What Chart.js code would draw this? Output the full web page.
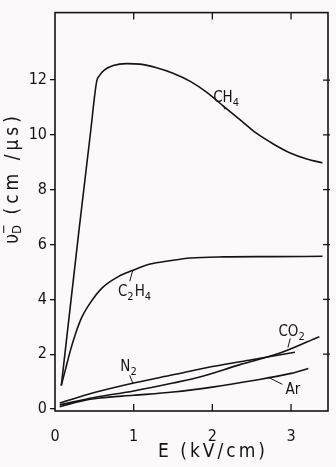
<!DOCTYPE html>
<html>
<head>
<meta charset="utf-8">
<script src="https://cdn.jsdelivr.net/npm/chart.js@4.4.1/dist/chart.umd.min.js"></script>
<style>
  html, body { margin: 0; padding: 0; background: #fcf9fb; }
  canvas { display: block; }
</style>
</head>
<body>
<canvas id="graph" width="336" height="467"></canvas>
<script>
// E (kV/cm) and drift velocity (cm/us)
const eCH4  = [0.08, 0.30, 0.45, 0.53, 0.57, 0.63, 0.74, 0.91, 1.08, 1.29, 1.50, 1.72, 1.93, 2.14, 2.35, 2.56, 2.78, 2.99, 3.20, 3.40];
const vCH4  = [0.85, 6.40, 10.05, 11.95, 12.18, 12.37, 12.53, 12.60, 12.58, 12.45, 12.25, 11.95, 11.55, 11.05, 10.56, 10.06, 9.66, 9.34, 9.12, 8.98];

const eC2H4 = [0.08, 0.13, 0.195, 0.26, 0.34, 0.45, 0.60, 0.81, 0.98, 1.21, 1.46, 1.72, 2.14, 2.77, 3.40];
const vC2H4 = [0.87, 1.41, 2.13, 2.74, 3.34, 3.88, 4.42, 4.84, 5.05, 5.29, 5.41, 5.51, 5.55, 5.56, 5.57];

const eN2   = [0.06, 0.50, 1.00, 1.50, 2.00, 2.50, 3.05];
const vN2   = [0.22, 0.60, 0.95, 1.25, 1.55, 1.80, 2.07];

const eCO2  = [0.06, 0.50, 1.00, 1.50, 1.84, 2.35, 2.86, 3.36];
const vCO2  = [0.15, 0.42, 0.66, 0.95, 1.17, 1.62, 2.04, 2.64];

const eAr   = [0.06, 0.30, 0.57, 1.00, 1.50, 2.00, 2.50, 3.00, 3.22];
const vAr   = [0.08, 0.27, 0.40, 0.50, 0.62, 0.80, 1.03, 1.30, 1.48];

const xTicks = [0, 1, 2, 3];
const yTicks = [0, 2, 4, 6, 8, 10, 12];

const INK  = '#141414';
const FONT = '"Liberation Sans Narrow", "DejaVu Sans Condensed", sans-serif';

const pts = (xs, ys) => xs.map((x, i) => ({ x, y: ys[i] }));
const line = (xs, ys) => ({
  data: pts(xs, ys),
  borderColor: INK,
  borderWidth: 1.6,
  pointRadius: 0,
  fill: false,
  cubicInterpolationMode: 'monotone',
});

// curve labels: text parts ([text, isSub]), text anchor and leader line, in data units
const labels = [
  { parts: [['CH', 0], ['4', 1]],            at: [2.01, 11.2], lead: [[2.14, 11.08], [2.16, 10.93]] },
  { parts: [['C', 0], ['2', 1], ['H', 0], ['4', 1]], at: [0.80, 4.12], lead: [[0.99, 5.08], [0.95, 4.66]] },
  { parts: [['N', 0], ['2', 1]],             at: [0.83, 1.37], lead: [[0.95, 1.23], [0.99, 0.94]] },
  { parts: [['CO', 0], ['2', 1]],            at: [2.84, 2.67], lead: [[2.99, 2.57], [2.96, 2.24]] },
  { parts: [['Ar', 0]],                      at: [2.93, 0.54], lead: [[2.89, 0.90], [2.71, 1.16]] },
];

function drawParts(ctx, parts, x, y, size) {
  ctx.textAlign = 'left';
  ctx.textBaseline = 'alphabetic';
  for (const [t, sub] of parts) {
    ctx.font = (sub ? size - 4 : size) + 'px ' + FONT;
    ctx.fillText(t, x, sub ? y + 4 : y);
    x += ctx.measureText(t).width + (sub ? 1 : 0);
  }
}

const decor = {
  id: 'decor',
  beforeDraw(chart) {
    const ctx = chart.ctx;
    ctx.save();
    ctx.fillStyle = '#fcf9fb';
    ctx.fillRect(0, 0, chart.width, chart.height);
    ctx.restore();
  },
  afterDraw(chart) {
    const { ctx, chartArea: a, scales: { x, y } } = chart;
    ctx.save();
    ctx.strokeStyle = INK;
    ctx.fillStyle = INK;
    ctx.lineWidth = 1.6;
    ctx.strokeRect(a.left, a.top, a.right - a.left, a.bottom - a.top);

    // inward ticks on bottom, top and right
    ctx.lineWidth = 1.3;
    ctx.beginPath();
    for (const v of xTicks.slice(1)) {
      const px = x.getPixelForValue(v);
      ctx.moveTo(px, a.bottom); ctx.lineTo(px, a.bottom - 7);
      ctx.moveTo(px, a.top);    ctx.lineTo(px, a.top + 7);
    }
    for (const v of yTicks.slice(1)) {
      const py = y.getPixelForValue(v);
      ctx.moveTo(a.right - 5, py); ctx.lineTo(a.right + 2, py);
    }
    ctx.stroke();

    // curve labels
    ctx.lineWidth = 1;
    for (const l of labels) {
      drawParts(ctx, l.parts, x.getPixelForValue(l.at[0]), y.getPixelForValue(l.at[1]), 15);
      ctx.beginPath();
      ctx.moveTo(x.getPixelForValue(l.lead[0][0]), y.getPixelForValue(l.lead[0][1]));
      ctx.lineTo(x.getPixelForValue(l.lead[1][0]), y.getPixelForValue(l.lead[1][1]));
      ctx.stroke();
    }

    // x title
    ctx.font = '19px ' + FONT;
    ctx.letterSpacing = '3px';
    ctx.textAlign = 'center';
    ctx.textBaseline = 'middle';
    ctx.fillText('E (kV/cm)', 213, 452);

    // y title, rotated: υ with superscript bar and subscript D, then unit
    ctx.translate(13, 178);
    ctx.rotate(-Math.PI / 2);
    ctx.textAlign = 'left';
    ctx.font = '19px ' + FONT;
    const unit = ' (cm /μs)';
    ctx.letterSpacing = '4px';
    const wUnit = ctx.measureText(unit).width;
    ctx.letterSpacing = '0px';
    const wV = ctx.measureText('υ').width;
    const total = wV + 10 + wUnit;
    let cx = -total / 2;
    ctx.fillText('υ', cx, 0);
    ctx.font = '13px ' + FONT;
    ctx.fillText('D', cx + wV, 5);
    ctx.fillText('−', cx + wV, -8);
    cx += wV + 10;
    ctx.font = '19px ' + FONT;
    ctx.letterSpacing = '4px';
    ctx.fillText(unit, cx, 0);
    ctx.restore();
  },
};

const chart = new Chart(document.getElementById('graph'), {
  type: 'line',
  data: {
    datasets: [
      line(eCH4, vCH4),
      line(eC2H4, vC2H4),
      line(eN2, vN2),
      line(eCO2, vCO2),
      line(eAr, vAr),
    ],
  },
  options: {
    responsive: false,
    animation: false,
    devicePixelRatio: 1,
    layout: { padding: { top: 9, right: 8, left: 0, bottom: 0 } },
    plugins: {
      legend: { display: false },
      tooltip: { enabled: false },
    },
    scales: {
      x: {
        type: 'linear',
        min: 0,
        max: 3.47,
        afterBuildTicks: s => { s.ticks = xTicks.map(v => ({ value: v })); },
        afterFit: s => { s.height = 56; },
        grid: { display: false },
        border: { display: false },
        ticks: { color: INK, padding: 8, font: { family: FONT, size: 16 } },
      },
      y: {
        type: 'linear',
        min: -0.072,
        max: 14.46,
        afterBuildTicks: s => { s.ticks = yTicks.map(v => ({ value: v })); },
        afterFit: s => { s.width = 55; },
        grid: { drawOnChartArea: false, tickLength: 5, color: INK, lineWidth: 1.3 },
        border: { display: false },
        ticks: { color: INK, padding: 3, font: { family: FONT, size: 16 } },
      },
    },
  },
  plugins: [decor],
});
</script>
</body>
</html>
